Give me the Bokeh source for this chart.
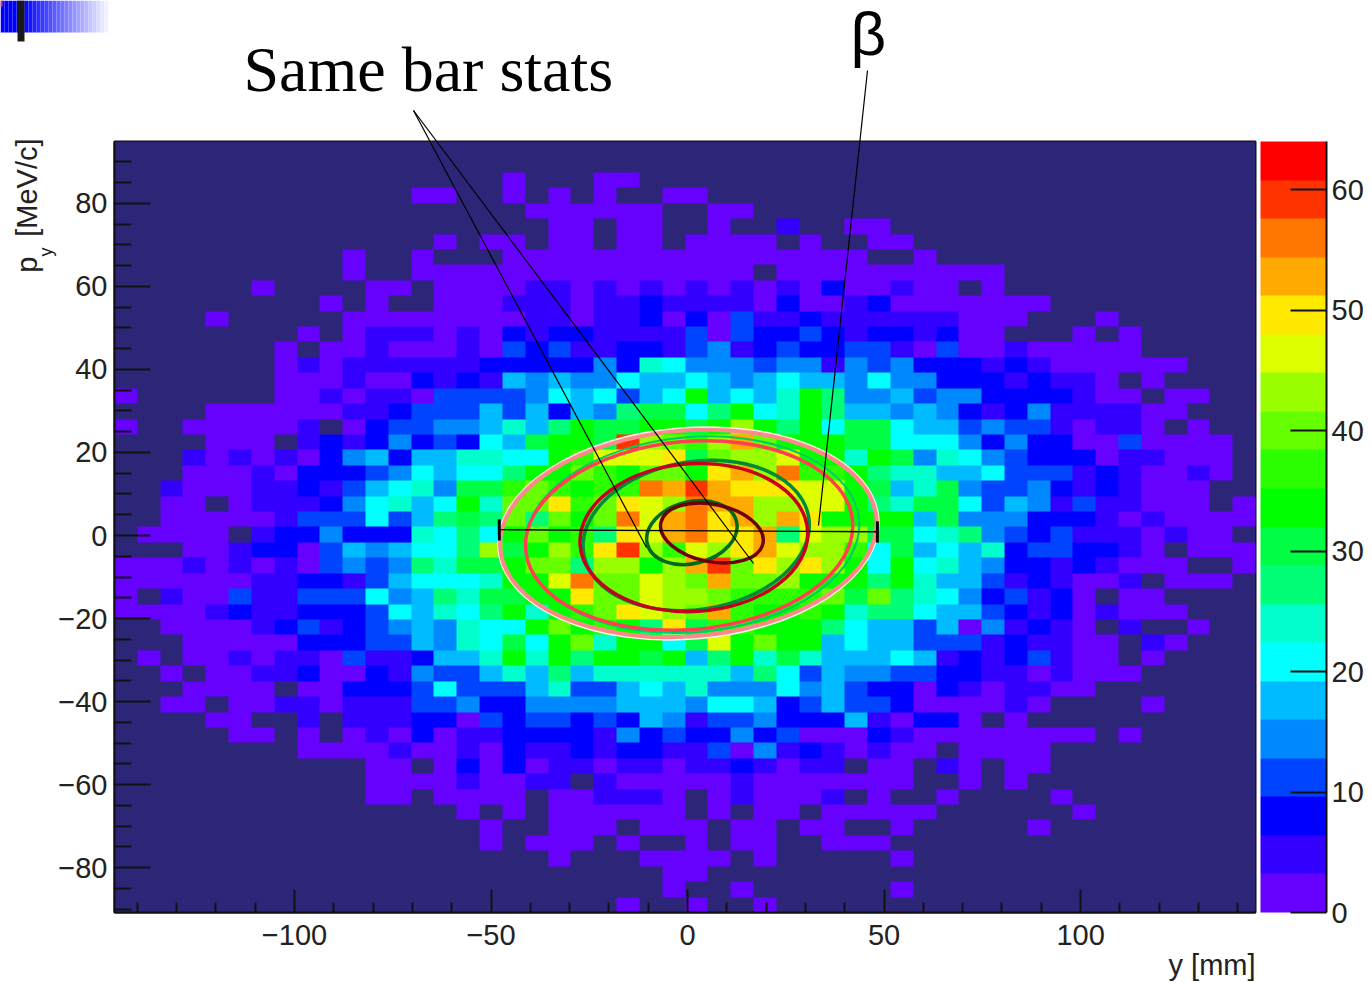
import numpy as np
from bokeh.embed import file_html
from bokeh.resources import INLINE
from bokeh.plotting import figure
from bokeh.core.properties import value
from bokeh.models import LinearColorMapper, ColorBar, FixedTicker, Range1d

# y [mm] bins (columns) and p_y [MeV/c] bins (rows, top to bottom)
N_BINS = 50
Y_MIN, Y_MAX = -145.8, 144.5
PY_MIN, PY_MAX = -90.8, 94.9
Z_MAX = 64.0
PALETTE = ["#6600ff", "#3300ff", "#0000ff", "#0044ff", "#0088ff", "#00bbff", "#00ffff", "#00ffcc", "#00ff77", "#00ff44",
           "#00ff00", "#2bff00", "#66ff00", "#99ff00", "#ddff00", "#ffe900", "#ffaa00", "#ff7700", "#ff3300", "#ff0000"]
EMPTY_COLOR = "#2d2678"
# Each character is the colour-band of a bin: '.' empty, 0-9 then a-j for the 20 bands
HIST_ROWS = [
 "..... ..... ..... ..... ..... ..... ..... ..... ..... .....",
 "..... ..... ..... ..... ..... ..... ..... ..... ..... .....",
 "..... ..... ..... ..0.. .00.. ..... ..... ..... ..... .....",
 "..... ..... ...00 ..0.0 .0..0 0.... ..... ..... ..... .....",
 "..... ..... ..... ...00 0000. .00.. ..... ..... ..... .....",
 "..... ..... ..... ....0 0.00. .0..1 ..00. ..... ..... .....",
 "..... ..... ....0 .00.0 0.00. 0000. 0..00 ..... ..... .....",
 "..... ..... 0..0. ..000 00000 00000 000.. 0.... ..... .....",
 "..... ..... 0..00 00000 00000 000.0 00000 0000. ..... .....",
 "..... .0... .00.0 00011 01010 10101 02001 00.0. ..... .....",
 "..... ....0 .0..0 00111 01121 11102 00120 00000 0.... .....",
 "....0 ..... 00000 00011 01120 20311 21111 11000 ...0. .....",
 "..... ...0. 01110 10212 21111 30322 32122 1200. ..0.0 .....",
 "..... ..0.0 01000 10323 11221 34123 22331 03001 00000 .....",
 "..... ..010 11111 12222 24276 44434 41434 22212 10000 00...",
 "..... ..000 10021 21545 44655 65456 55464 42221 2110. 0....",
 "0.... ..001 01103 33346 56356 a5657 a8445 34422 22100 .00..",
 "....0 00000 11233 35352 54899 68a67 a8554 54212 41111 00...",
 "0..00 0001. 02334 45758 a99aa 9ada8 a6996 55343 31011 0.0..",
 "....0 00.12 12423 2659a a9idc bdgca aa996 66424 22003 0000.",
 "...10 10102 45255 7766a beeef 9cdde aa7a9 47643 22201 1000.",
 "...00 01022 23465 668aa cbacc afgdh bba87 75563 33121 0010.",
 "..100 01121 35674 99bcb abbhg igfff eea95 79433 42121 000..",
 "..00. 01112 46756 a7ccf bcfed hggdd eea87 99635 41311 000.0",
 "..000 00133 36358 98c8c acheg hfgdg faaaa 59444 22210 10000",
 ".0000 .1224 22276 86aca b8feg hffg8 edd99 67843 23111 0100.",
 "...00 12203 54566 8d9ad bfidb edfge ddb69 56572 33221 0.000",
 "00010 10103 43487 99acc 8ddad gicfd fda6a 67542 21210 00..0",
 "00000 01122 13566 67aae hcced cgccd aaa8a 75531 21001 .000.",
 "0.100 31133 36458 799aa fcced dcbbb bc9c8 76423 120.0 0....",
 "00001 21122 23657 68a7a bcfed cgbaa ba788 65532 12010 00...",
 "..000 01231 23454 766ac aba8f 9bbaa a8655 35041 210.1 ..0..",
 "...00 00022 23354 7696a c7aa6 9eaca a5655 33312 1100. 10...",
 ".0.00 10110 31125 57a7a 8aa9a 58a79 75556 51212 3100. 0....",
 "..0.0 01120 02143 35758 57777 77586 35443 32211 01000 .....",
 "...00 00.00 22236 33357 33565 74446 45322 02101 100.. .....",
 "..00. 00110 11133 42244 44555 46652 35332 00001 0.... 0....",
 "....0 0..1. 11122 03233 23254 13342 22510 220.0 ..... .....",
 "..... 00.0. 01020 11222 21423 22423 00021 00000 000.0 .....",
 "..... ...00 00100 10211 21221 13041 21010 0.000 0.... .....",
 "..... ..... .00.0 20201 10110 11210 11.00 .10.0 0.... .....",
 "..... ..... .0000 10011 .1000 00100 00000 ..0.0 ..... .....",
 "..... ..... .00.0 000.0 01110 .0100 01.0. .0... .0... .....",
 "..... ..... ..... 0.0.0 00000 .0.00 .0000 0.... ..0.. .....",
 "..... ..... ..... .0..0 00.00 0.00. 00..0 ..... 0.... .....",
 "..... ..... ..... .0.00 0.0.. 0.00. .000. ..... ..... .....",
 "..... ..... ..... ....0 ...00 00.0. ....0 ..... ..... .....",
 "..... ..... ..... ..... ....0 0.... ..... ..... ..... .....",
 "..... ..... ..... ..... ....0 ..0.. ....0 ..... ..... .....",
 "..... ..... ..... ..... ..0.. 0..0. ..... ..... ..... .....",
]
BAND_CODES = "0123456789abcdefghij"

X_TICKS = [-100, -50, 0, 50, 100]
X_LABELS = {-100: "\u2212100", -50: "\u221250", 0: "0", 50: "50", 100: "100"}
X_MINOR = [-140, -130, -120, -110, -90, -80, -70, -60, -40, -30, -20, -10, 10, 20, 30, 40, 60, 70, 80, 90, 110, 120, 130, 140]
Y_TICKS = [-80, -60, -40, -20, 0, 20, 40, 60, 80]
Y_LABELS = {-80: "\u221280", -60: "\u221260", -40: "\u221240", -20: "\u221220", 0: "0", 20: "20", 40: "40", 60: "60", 80: "80"}
Y_MINOR = [-90, -85, -75, -70, -65, -55, -50, -45, -35, -30, -25, -15, -10, -5, 5, 10, 15, 25, 30, 35, 45, 50, 55, 65, 70, 75, 85, 90]
Z_TICKS = [0, 10, 20, 30, 40, 50, 60]

# Beam ellipses: centre y, centre py, width, height, tilt (rad), colour, line width
ELLIPSE_CX = [0.2, 0.2, 1.2, 0.4, 2.2, 1.6, 1.1, 6.2]
ELLIPSE_CY = [0.5, 0.5, 0.2, 0.0, 0.0, -0.5, 0.7, 0.6]
ELLIPSE_W = [96.8, 96.0, 85.2, 83.5, 58.0, 58.0, 23.4, 26.5]
ELLIPSE_H = [50.6, 49.6, 47.0, 45.3, 35.6, 35.6, 14.9, 13.8]
ELLIPSE_TILT = [0.08, 0.08, 0.09, 0.09, 0.16, 0.06, 0.25, -0.2]
ELLIPSE_COLOR = ["#fff0f0", "#ff8888", "#00cc66", "#ff4050", "#008a3c", "#c80020", "#006a20", "#700010"]
ELLIPSE_LW = [3, 4, 2, 3.5, 3.5, 3.5, 3.5, 3.5]

band_rows = [r.replace(" ", "") for r in HIST_ROWS]
bin_w = Z_MAX / len(PALETTE)
grid = np.full((N_BINS, N_BINS), np.nan)
for j, row in enumerate(band_rows):
    for i, ch in enumerate(row):
        if ch != ".":
            grid[N_BINS - 1 - j, i] = (BAND_CODES.index(ch) + 0.5) * bin_w

W, H = 1372, 983
FL, FT, FR, FB = 114, 141, 1255, 912  # plot frame on the page

mapper = LinearColorMapper(palette=PALETTE, low=0, high=Z_MAX, nan_color=EMPTY_COLOR)
p = figure(width=W, height=H, output_backend="svg", toolbar_location=None,
           x_range=Range1d(Y_MIN, Y_MAX), y_range=Range1d(PY_MIN, PY_MAX),
           frame_width=FR - FL, frame_height=FB - FT, min_border_left=FL, min_border_top=FT,
           min_border_bottom=H - FB, min_border_right=5, background_fill_color=None, border_fill_color="white",
           outline_line_color="#111111", outline_line_width=2)
p.grid.visible = False
p.image(image=[grid], x=Y_MIN, y=PY_MIN, dw=Y_MAX - Y_MIN, dh=PY_MAX - PY_MIN, color_mapper=mapper)

for cx, cy, w, h, t, c, lw in zip(ELLIPSE_CX, ELLIPSE_CY, ELLIPSE_W, ELLIPSE_H, ELLIPSE_TILT, ELLIPSE_COLOR, ELLIPSE_LW):
    p.ellipse(x=cx, y=cy, width=w, height=h, angle=t, fill_color=None, line_color=c, line_width=lw)

# sigma marker of the beam
p.segment(x0=[-47.9], y0=[1.4], x1=[48.3], y1=[0.9], line_color="black", line_width=1.3)
p.segment(x0=[-47.9, 48.3], y0=[-1.2, -1.7], x1=[-47.9, 48.3], y1=[3.9, 3.4], line_color="black", line_width=3)

xa, ya = p.xaxis[0], p.yaxis[0]
xa.ticker = FixedTicker(ticks=X_TICKS, minor_ticks=X_MINOR)
ya.ticker = FixedTicker(ticks=Y_TICKS, minor_ticks=Y_MINOR)
xa.major_label_overrides = X_LABELS
ya.major_label_overrides = Y_LABELS
for a, maj, mnr in ((xa, 23, 10), (ya, 36, 17)):
    a.major_tick_in, a.major_tick_out = maj, 0
    a.minor_tick_in, a.minor_tick_out = mnr, 0
    a.major_tick_line_color = a.minor_tick_line_color = "#111111"
    a.major_tick_line_width = a.minor_tick_line_width = 2
    a.axis_line_color = "#111111"
    a.axis_line_width = 2
    a.major_label_text_font = "Liberation Sans"
    a.major_label_text_font_size = "29px"
    a.major_label_text_color = "#222222"
xa.major_label_standoff = 12
ya.major_label_standoff = 7

cb = ColorBar(color_mapper=mapper, ticker=FixedTicker(ticks=Z_TICKS), width=66, height=FB - FT,
              padding=0, location=(5, 0), major_tick_in=36, major_tick_out=0,
              major_tick_line_color="#111111", major_tick_line_width=2, bar_line_color=None,
              major_label_text_font="Liberation Sans", major_label_text_font_size="29px",
              major_label_text_color="#222222", label_standoff=5, minor_tick_line_color=None)
p.add_layout(cb, "right")

# Transparent layer over the whole page for the slide's notes and callouts, in page pixels
ov = figure(width=W, height=H, output_backend="svg", toolbar_location=None, x_axis_type=None, y_axis_type=None,
            x_range=Range1d(0, W), y_range=Range1d(H, 0), min_border=0, background_fill_color=None,
            border_fill_color=None, outline_line_color=None,
            styles={"position": "absolute", "left": "0", "top": "0", "pointer-events": "none"})
ov.grid.visible = False

def label(text, x, y, size, font="Liberation Sans", angle=0.0, align="left", color="#222222"):
    # x, y give where the glyph baseline should sit on the page
    shift = 0.4 * size
    if angle:
        x = x - shift
    else:
        y = y - shift
    ov.text(x=[x], y=[y], text=[text], text_font=value(font), text_font_size=f"{size}px", angle=angle,
            text_align=align, text_baseline="alphabetic", text_color=color)

label("y [mm]", 1255, 976, 29, align="right")
label("[MeV/c]", 38, 138, 29, angle=np.pi / 2, align="right")
label("y", 53, 247, 18, angle=np.pi / 2, align="right")
label("p", 38, 256, 29, angle=np.pi / 2, align="right")
label("Same bar stats", 243, 95, 64, font="Liberation Serif", color="black")
label("\u03b2", 850, 58, 62, font="Liberation Sans", color="black")

ov.segment(x0=[413, 413, 867], y0=[110, 110, 70], x1=[646, 753, 818], y1=[547, 563, 525], line_color="black", line_width=1.2)
ov.segment(x0=[1326], y0=[FT], x1=[1326], y1=[FB], line_color="#111111", line_width=2)

# corner decoration of the slide
steps = np.arange(0, 112, 4)
shade = np.clip((steps - 20) / 88, 0, 1)
ov.quad(left=steps, right=steps + 4, top=0, bottom=32, line_color=None,
        fill_color=["#%02x%02xff" % (int(255 * t), int(255 * t)) for t in shade])
ov.quad(left=[17], right=[24], top=[0], bottom=[41], line_color=None, fill_color="#1a1a1a")
ov.quad(left=[0], right=[2], top=[0], bottom=[6], line_color=None, fill_color="#ff3030")

open("out.html", "w").write(file_html([p, ov], INLINE))
